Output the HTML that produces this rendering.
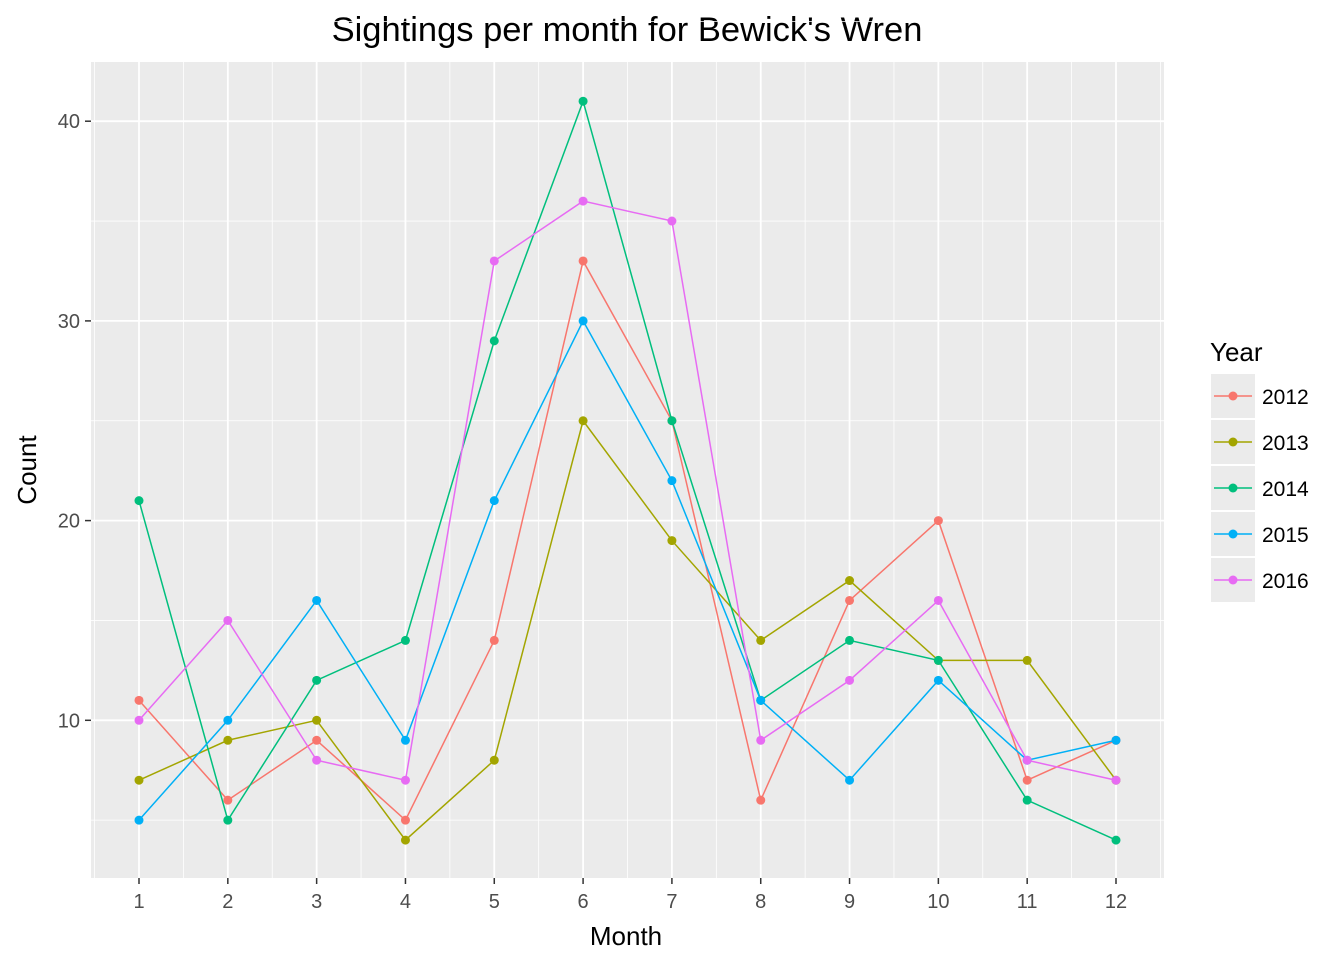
<!DOCTYPE html>
<html><head><meta charset="utf-8"><style>
body{margin:0;background:#fff;font-family:"Liberation Sans",sans-serif}
</style></head><body>
<svg id="chart" width="1344" height="960" xmlns="http://www.w3.org/2000/svg" font-family="Liberation Sans, sans-serif">
<text x="627" y="41" font-size="34.5" text-anchor="middle" fill="#000">Sightings per month for Bewick's Wren</text>
<rect x="91" y="62" width="1073" height="816" fill="#ebebeb"/>
<g id="grid"></g>
<g id="series"></g>
<g id="axes"></g>
<text x="626" y="945" font-size="26" text-anchor="middle">Month</text>
<text transform="translate(36,470) rotate(-90)" font-size="26" text-anchor="middle">Count</text>
<g id="legend"><text x="1210" y="361" font-size="26">Year</text></g>
</svg>
<script>
const months=[1,2,3,4,5,6,7,8,9,10,11,12];
const years=["2012","2013","2014","2015","2016"];
const colors=["#F8766D","#A3A500","#00BF7D","#00B0F6","#E76BF3"];
const s2012=[11,6,9,5,14,33,25,6,16,20,7,9];
const s2013=[7,9,10,4,8,25,19,14,17,13,13,7];
const s2014=[21,5,12,14,29,41,25,11,14,13,6,4];
const s2015=[5,10,16,9,21,30,22,11,7,12,8,9];
const s2016=[10,15,8,7,33,36,35,9,12,16,8,7];
const yTicks=[10,20,30,40];
const seriesList=[s2012,s2013,s2014,s2015,s2016];
const NS="http://www.w3.org/2000/svg";
function xs(m){return 139+(m-1)*(1116-139)/11;}
function ys(v){return 920-v*19.97;}
function mk(tag,attrs,parent){const e=document.createElementNS(NS,tag);for(const k in attrs)e.setAttribute(k,attrs[k]);parent.appendChild(e);return e;}
const grid=document.getElementById('grid'),axes=document.getElementById('axes'),ser=document.getElementById('series'),leg=document.getElementById('legend');
for(let i=0;i<yTicks.length+1;i++){const v=yTicks[0]-5+i*10;const l=mk('line',{x1:91,x2:1164,y1:ys(v),y2:ys(v),stroke:'#fff','stroke-width':0.8},grid);

}
for(let i=0;i<months.length+1;i++){const m=months[0]-0.5+i;const l=mk('line',{x1:xs(m),x2:xs(m),y1:62,y2:878,stroke:'#fff','stroke-width':0.8},grid);

}
yTicks.forEach(v=>{const l=mk('line',{x1:91,x2:1164,y1:ys(v),y2:ys(v),stroke:'#fff','stroke-width':1.8},grid);


mk('line',{x1:85,x2:91,y1:ys(v),y2:ys(v),stroke:'#333','stroke-width':1.5},axes);
const t=mk('text',{x:80,y:ys(v)+7,'font-size':20,'text-anchor':'end',fill:'#4d4d4d'},axes);t.textContent=v;

});
months.forEach(m=>{const l=mk('line',{x1:xs(m),x2:xs(m),y1:62,y2:878,stroke:'#fff','stroke-width':1.8},grid);


mk('line',{x1:xs(m),x2:xs(m),y1:878,y2:884,stroke:'#333','stroke-width':1.5},axes);
const t=mk('text',{x:xs(m),y:908,'font-size':20,'text-anchor':'middle',fill:'#4d4d4d'},axes);t.textContent=m;

});
seriesList.forEach((d,i)=>{const p=mk('polyline',{points:d.map((v,j)=>xs(months[j])+','+ys(v)).join(' '),fill:'none',stroke:colors[i],'stroke-width':1.5},ser);


d.forEach((v,j)=>{const c=mk('circle',{cx:xs(months[j]),cy:ys(v),r:4.5,fill:colors[i]},ser);

});
const cy=396+i*46;
const bg=mk('rect',{x:1211,y:cy-22,width:44,height:44,fill:'#ebebeb'},leg);


mk('line',{x1:1214,x2:1252,y1:cy,y2:cy,stroke:colors[i],'stroke-width':1.5},leg);
mk('circle',{cx:1233,cy:cy,r:4.5,fill:colors[i]},leg);
const t=mk('text',{x:1262,y:cy+8,'font-size':21},leg);t.textContent=years[i];

});
</script>
</body></html>
